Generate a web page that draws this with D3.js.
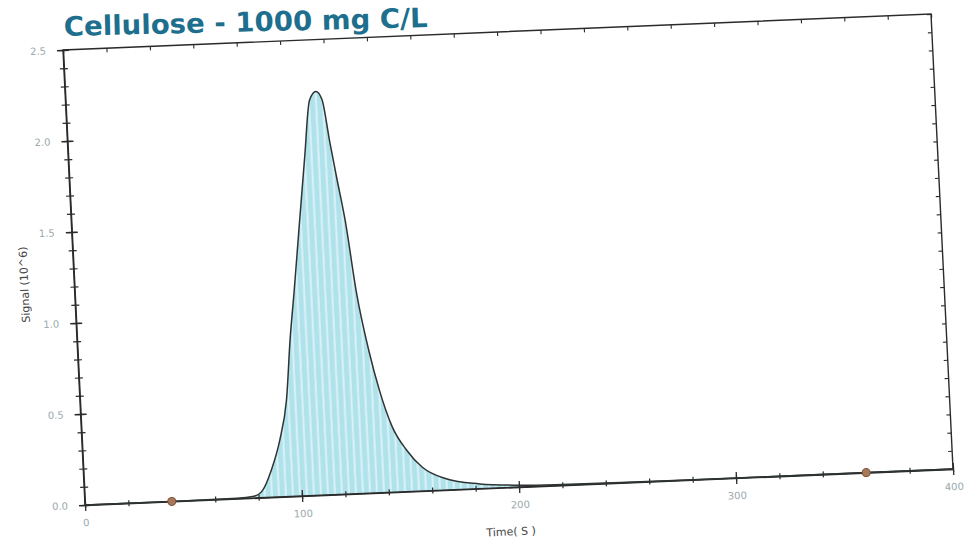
<!DOCTYPE html>
<html>
<head>
<meta charset="utf-8">
<script src="https://cdn.jsdelivr.net/npm/d3@7"></script>
<style>
  html, body { margin: 0; padding: 0; background: #ffffff; }
  svg { display: block; }
</style>
</head>
<body>
<svg id="chart" width="971" height="546"></svg>
<script>
// ---- data ----
const timeValues   = [0, 40, 70, 78, 82, 86.5, 91, 95, 98, 101, 104.5, 108.8, 112.3, 115.4, 118, 120.7, 123, 126, 129.6, 134, 138, 143, 149, 156, 167, 182, 200, 220, 250, 300, 360, 400];
const signalValues = [0, 0, 0.003, 0.01, 0.04, 0.15, 0.31, 0.53, 0.86, 1.13, 1.46, 1.86, 2.17, 2.215, 2.17, 1.93, 1.74, 1.50, 1.10, 0.78, 0.56, 0.36, 0.23, 0.13, 0.06, 0.026, 0.01, 0.004, 0.001, 0, 0, 0];
const markerTimes  = [40, 360];
const xTickLabels  = [0, 100, 200, 300, 400];
const yTickLabels  = [0.0, 0.5, 1.0, 1.5, 2.0, 2.5];
const titleText    = "Cellulose - 1000 mg C/L";
const xTitle       = "Time( S )";
const yTitle       = "Signal (10^6)";

const data = timeValues.map((t, i) => ({ t: t, s: signalValues[i] }));

// ---- layout ----
const W = 868, H = 455;
const svg = d3.select("#chart");

const defs = svg.append("defs");
const pat = defs.append("pattern")
  .attr("id", "stripes").attr("patternUnits", "userSpaceOnUse")
  .attr("width", 7).attr("height", 10);
pat.append("rect").attr("width", 7).attr("height", 10).attr("fill", "#b0e2ec");
pat.append("rect").attr("x", 4).attr("width", 2).attr("height", 10).attr("fill", "#d9f2f6");

// photographed page is slightly rotated / skewed
const g = svg.append("g")
  .attr("transform", "matrix(1,-0.04147,0.04835,1,63,50)");

const x = d3.scaleLinear().domain([0, 400]).range([0, W]);
const y = d3.scaleLinear().domain([0, 2.5]).range([H, 0]);

// area (between integration markers)
const area = d3.area()
  .defined(d => d.t >= markerTimes[0] && d.t <= markerTimes[1])
  .x(d => x(d.t)).y0(y(0)).y1(d => y(d.s))
  .curve(d3.curveMonotoneX);
g.append("path").datum(data).attr("d", area).attr("fill", "url(#stripes)");

// frame
g.append("rect").attr("width", W).attr("height", H)
  .attr("fill", "none").attr("stroke", "#2b2b2b").attr("stroke-width", 1.4);

const labelStyle = sel => sel.selectAll("text")
  .attr("fill", "#9aa9ad").attr("font-family", "DejaVu Sans, sans-serif").attr("font-size", 10);

// bottom axis: minor ticks (every 20)
const xMinor = g.append("g").attr("transform", `translate(0,${H})`)
  .call(d3.axisBottom(x).tickValues(d3.range(0, 401, 20)).tickFormat("").tickSizeOuter(0));
xMinor.select(".domain").remove();
xMinor.selectAll(".tick line").attr("y1", -3).attr("y2", 3).attr("stroke", "#2b2b2b").attr("stroke-width", 1.2);

// bottom axis: major ticks with labels
const xMajor = g.append("g").attr("transform", `translate(0,${H})`)
  .call(d3.axisBottom(x).tickValues(xTickLabels).tickFormat(d3.format("d")).tickSizeOuter(0).tickPadding(8));
xMajor.select(".domain").attr("stroke", "#2b2b2b").attr("stroke-width", 1.4);
xMajor.selectAll(".tick line").attr("y1", -6).attr("y2", 6).attr("stroke", "#2b2b2b").attr("stroke-width", 1.3);
labelStyle(xMajor);

// left axis: minor ticks (every 0.1)
const yMinor = g.append("g")
  .call(d3.axisLeft(y).tickValues(d3.range(0, 26, 1).map(v => v / 10)).tickFormat("").tickSizeOuter(0));
yMinor.select(".domain").remove();
yMinor.selectAll(".tick line").attr("x1", -4).attr("x2", 4).attr("stroke", "#2b2b2b").attr("stroke-width", 1.2);

// left axis: major ticks with labels
const yMajor = g.append("g")
  .call(d3.axisLeft(y).tickValues(yTickLabels).tickFormat(d3.format(".1f")).tickSizeOuter(0).tickPadding(11));
yMajor.select(".domain").attr("stroke", "#2b2b2b").attr("stroke-width", 1.4);
yMajor.selectAll(".tick line").attr("x1", -6).attr("x2", 6).attr("stroke", "#2b2b2b").attr("stroke-width", 1.3);
labelStyle(yMajor);

// top axis: inward ticks
const xTop = g.append("g")
  .call(d3.axisTop(x).tickValues(d3.range(0, 401, 20)).tickFormat("").tickSizeInner(-4).tickSizeOuter(0));
xTop.select(".domain").remove();
xTop.selectAll(".tick line").attr("stroke", "#2b2b2b").attr("stroke-width", 1.1);

// right axis: inward ticks
const yRight = g.append("g").attr("transform", `translate(${W},0)`)
  .call(d3.axisRight(y).tickValues(d3.range(0, 26, 1).map(v => v / 10)).tickFormat("").tickSizeInner(-4).tickSizeOuter(0));
yRight.select(".domain").remove();
yRight.selectAll(".tick line").attr("stroke", "#2b2b2b").attr("stroke-width", 1.1);

// signal curve
const line = d3.line().x(d => x(d.t)).y(d => y(d.s)).curve(d3.curveMonotoneX);
g.append("path").datum(data).attr("d", line)
  .attr("fill", "none").attr("stroke", "#2e3434").attr("stroke-width", 1.5);

// integration markers
g.selectAll(".marker").data(markerTimes).enter().append("circle")
  .attr("class", "marker")
  .attr("cx", d => x(d)).attr("cy", y(0)).attr("r", 4)
  .attr("fill", "#a8785a").attr("stroke", "#7d5236").attr("stroke-width", 1);

// axis titles
g.append("text").attr("x", W / 2 - 10).attr("y", H + 48)
  .attr("text-anchor", "middle").attr("font-family", "DejaVu Sans, sans-serif")
  .attr("font-size", 11).attr("fill", "#444").text(xTitle);
g.append("text").attr("transform", `translate(-46,${H / 2 + 5}) rotate(-90)`)
  .attr("text-anchor", "middle").attr("font-family", "DejaVu Sans, sans-serif")
  .attr("font-size", 11).attr("fill", "#444").text(yTitle);

// title
svg.append("text").attr("transform", "translate(64,36) rotate(-1.4)")
  .attr("font-family", "DejaVu Sans, sans-serif").attr("font-weight", "bold")
  .attr("font-size", 27).attr("fill", "#1d6f8d")
  .attr("textLength", 364).attr("lengthAdjust", "spacingAndGlyphs")
  .text(titleText);
</script>
</body>
</html>
